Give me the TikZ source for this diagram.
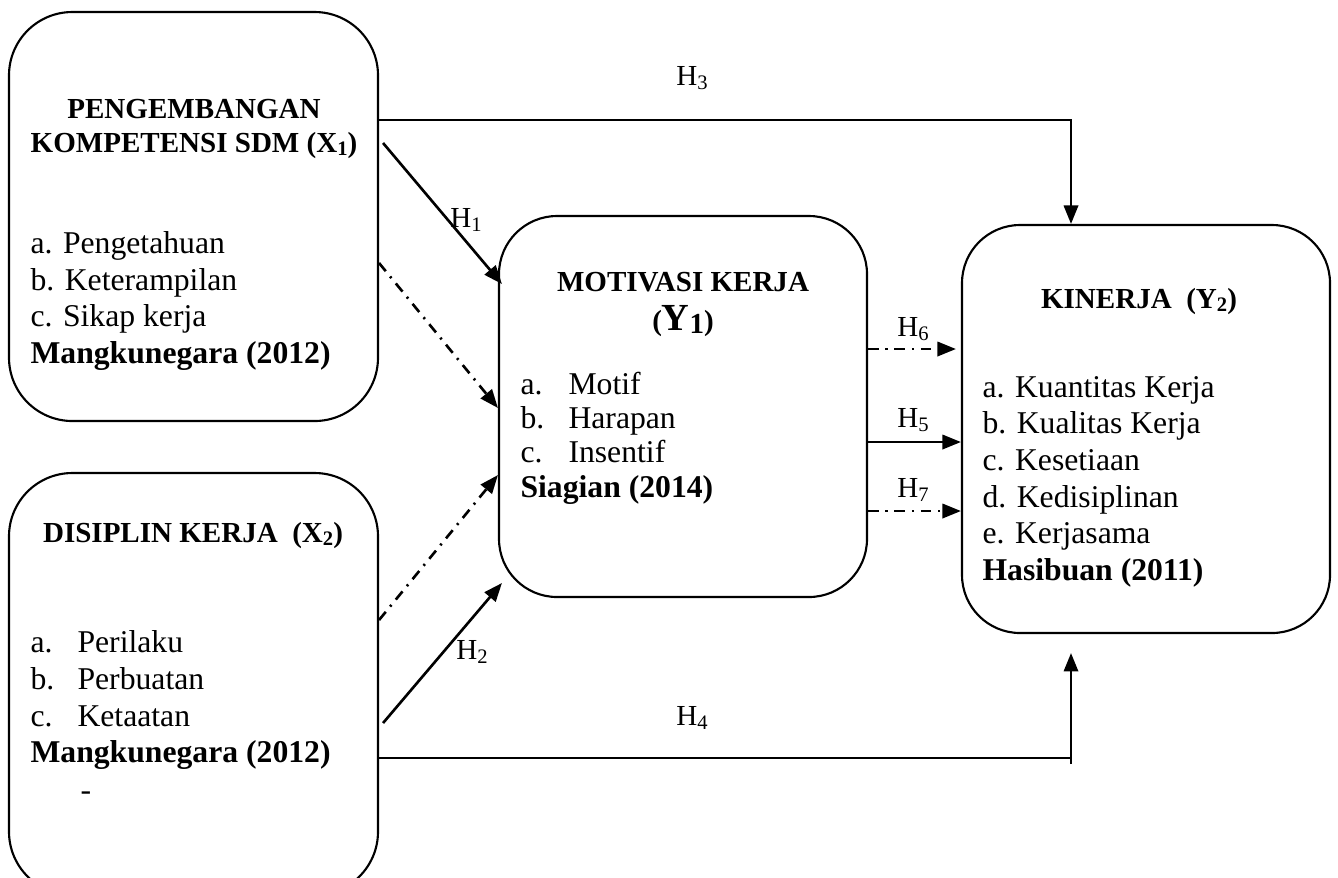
\documentclass[tikz,border=0pt]{standalone}
\usepackage{fontspec}
\setmainfont{Liberation Serif}
\usetikzlibrary{arrows.meta,fit,calc}
\newcommand{\sbs}[1]{\raisebox{-1.4pt}{\fontsize{7.8}{8}\selectfont #1}}
\begin{document}
\begin{tikzpicture}[x=0.3788pt,y=-0.3788pt,
  xbox/.style={draw, line width=0.8pt, rounded corners=24pt, inner sep=0pt},
  ybox/.style={draw, line width=0.8pt, rounded corners=22pt, inner sep=0pt},
  txt/.style={anchor=base west, inner sep=0pt, font=\fontsize{12}{14}\selectfont},
  btxt/.style={anchor=base west, inner sep=0pt, font=\fontsize{12}{14}\selectfont\bfseries},
  ttl/.style={anchor=base, inner sep=0pt, font=\fontsize{11}{13}\selectfont\bfseries},
  hl/.style={inner sep=0pt, font=\fontsize{11}{13}\selectfont},
  ln/.style={line width=0.9pt},
  arr/.style={line width=1pt, -{Triangle[length=7pt,width=5.4pt]}},
  dd/.style={arr, dash pattern=on 4pt off 2.6pt on 0.8pt off 2.6pt}]
\useasboundingbox (0,0) rectangle (1338,877);
% boxes
\node[xbox, fit={(9,12) (378,421)}] (x1) {};
\node[xbox, fit={(9,473) (378,895)}] (x2) {};
\node[ybox, fit={(499,216) (867,597)}] (y1) {};
\node[ybox, fit={(962,225) (1330,633)}] (y2) {};
% X1 text
\node[ttl] (x1t1) at (194,118) {PENGEMBANGAN};
\node[ttl] (x1t2) at (194,152) {KOMPETENSI SDM (X\sbs{1})};
\node[txt] (x1a) at (30,253) {a. Pengetahuan};
\node[txt] (x1b) at (30,290) {b. Keterampilan};
\node[txt] (x1c) at (30,326) {c. Sikap kerja};
\node[btxt] (x1r) at (30,363) {Mangkunegara (2012)};
% X2 text
\node[ttl] (x2t) at (193,542) {DISIPLIN KERJA\ \ (X\sbs{2})};
\node[txt] (x2a) at (30,652) {a.};
\node[txt] (x2at) at (77,652) {Perilaku};
\node[txt] (x2b) at (30,689) {b.};
\node[txt] (x2bt) at (77,689) {Perbuatan};
\node[txt] (x2c) at (30,726) {c.};
\node[txt] (x2ct) at (77,726) {Ketaatan};
\node[btxt] (x2r) at (30,762) {Mangkunegara (2012)};
\node[txt] (x2d) at (80,800) {-};
% Y1 text
\node[ttl] (y1t1) at (683,291) {MOTIVASI KERJA};
\node[ttl] (y1t2) at (683,330) {(\fontsize{14.5}{16}\selectfont Y\fontsize{11}{13}\selectfont\raisebox{-1.2pt}{1})};
\node[txt] (y1a) at (520,394) {a.};
\node[txt] (y1at) at (568,394) {Motif};
\node[txt] (y1b) at (520,428) {b.};
\node[txt] (y1bt) at (568,428) {Harapan};
\node[txt] (y1c) at (520,462) {c.};
\node[txt] (y1ct) at (568,462) {Insentif};
\node[btxt] (y1r) at (520,497) {Siagian (2014)};
% Y2 text
\node[ttl] (y2t) at (1139,308) {KINERJA\ \ (Y\sbs{2})};
\node[txt] (y2a) at (982,397) {a. Kuantitas Kerja};
\node[txt] (y2b) at (982,433) {b. Kualitas Kerja};
\node[txt] (y2c) at (982,470) {c. Kesetiaan};
\node[txt] (y2d) at (982,507) {d. Kedisiplinan};
\node[txt] (y2e) at (982,543) {e. Kerjasama};
\node[btxt] (y2r) at (982,580) {Hasibuan (2011)};
% connectors
\draw[arr] (x1.east |- 0,120) -| (y2.north -| 1071,0);
\draw[arr] ($(x1.east |- 0,143)+(4,0)$) -- ($(y1.west |- 0,284)+(4,0)$);
\draw[dd] (x1.east |- 0,263) -- (y1.west |- 0,408);
\draw[dd] (x2.east |- 0,620) -- (y1.west |- 0,475);
\draw[arr] ($(x2.east |- 0,723)+(4,0)$) -- ($(y1.west |- 0,583)+(4,0)$);
\coordinate (h4c) at (1071,764);
\coordinate (h4tip) at (1071,653);
\draw[ln] (x2.east |- 0,758) -- (h4c |- 0,758);
\draw[arr] (h4c) -- (h4tip);
\draw[dd] (y1.east |- 0,349) -- ($(y2.west |- 0,349)+(-5,0)$);
\draw[arr] (y1.east |- 0,442) -- (y2.west |- 0,442);
\draw[dd] (y1.east |- 0,511) -- (y2.west |- 0,511);
% labels
\node[hl] (lh3) at (692,78) {H\sbs{3}};
\node[hl] (lh1) at (466,220) {H\sbs{1}};
\node[hl] (lh2) at (472,652) {H\sbs{2}};
\node[hl] (lh4) at (692,718) {H\sbs{4}};
\node[hl] (lh6) at (913,329) {H\sbs{6}};
\node[hl] (lh5) at (913,420) {H\sbs{5}};
\node[hl] (lh7) at (913,490) {H\sbs{7}};
\end{tikzpicture}
\end{document}
